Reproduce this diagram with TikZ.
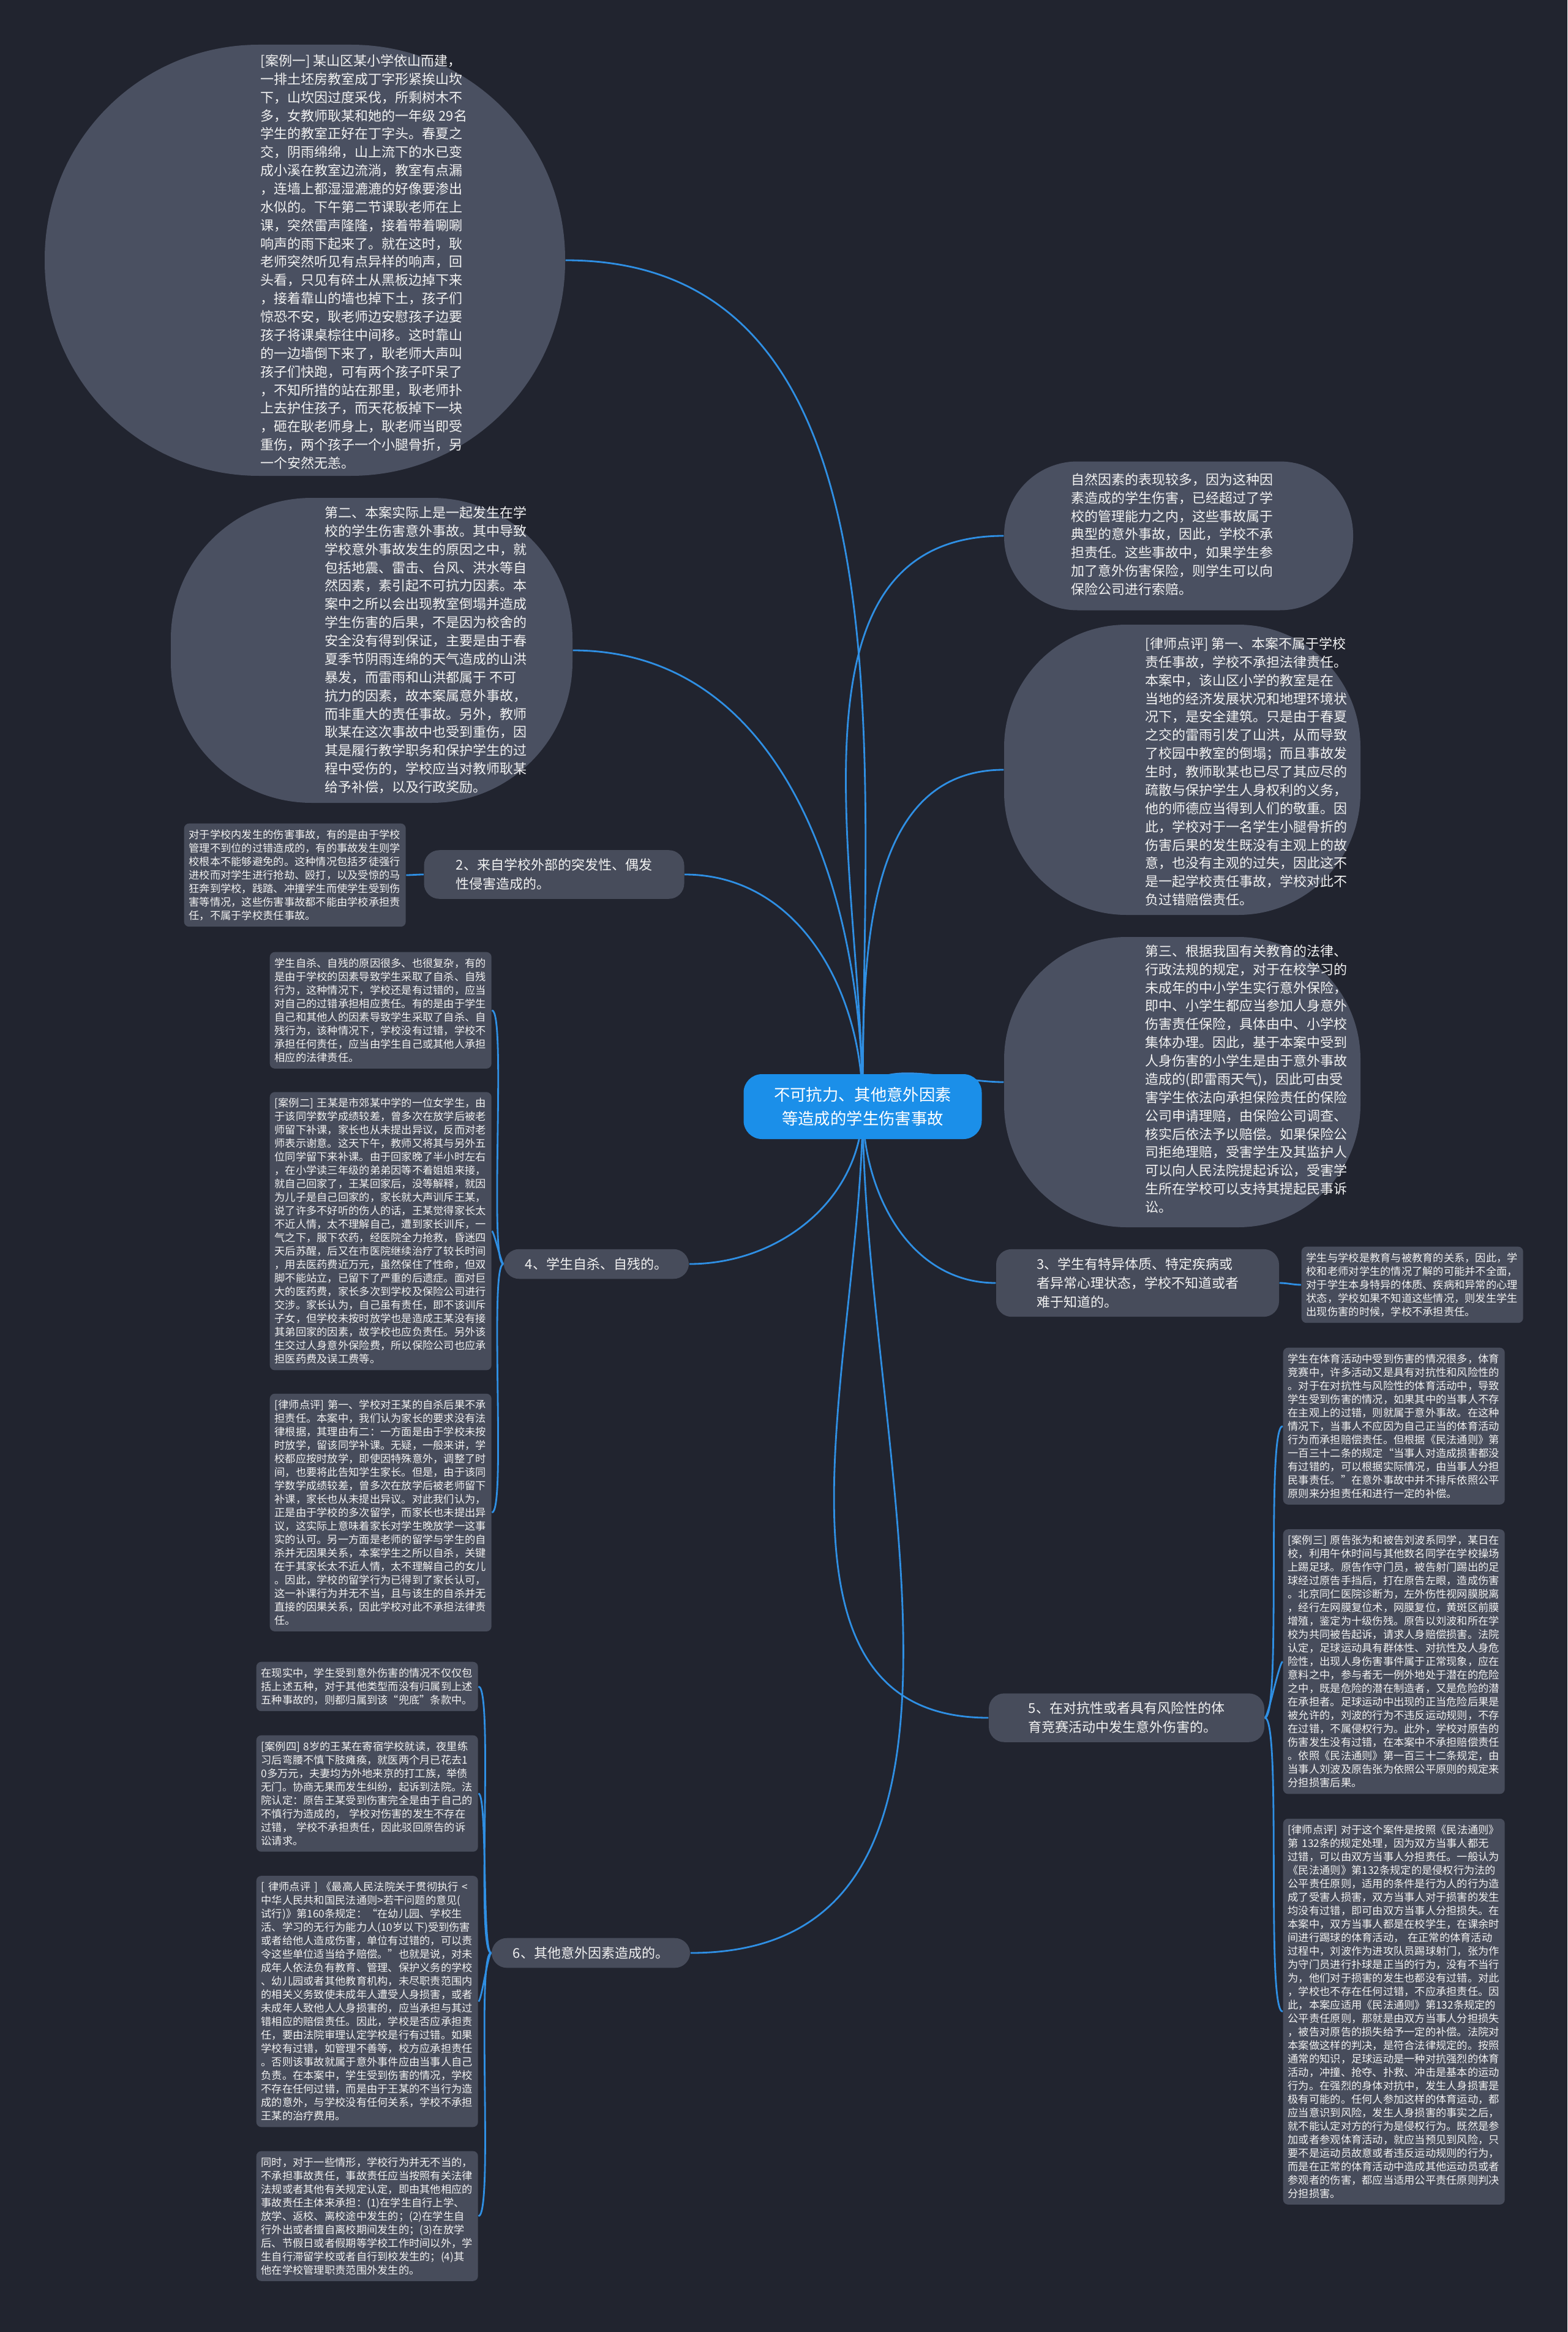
\documentclass[tikz,border=0pt]{standalone}
\usepackage{fontspec}
\setmainfont{Noto Sans CJK SC}
\usepackage{xcolor}
\definecolor{bgcol}{HTML}{21242F}
\definecolor{blobcol}{HTML}{4A5061}
\definecolor{cardcol}{HTML}{474C5B}
\definecolor{rootcol}{HTML}{1B8FE9}
\definecolor{linkcol}{HTML}{2F8FE3}
\definecolor{txtcol}{HTML}{F2F2F2}
\usetikzlibrary{positioning, backgrounds}

\begin{document}
\begin{tikzpicture}[
    blob/.style={fill=blobcol, inner sep=0pt},
    blobtext/.style={text=txtcol, align=left, inner sep=0pt, anchor=north west,
                     font=\fontsize{6.26}{8.5}\selectfont},
    card/.style={fill=cardcol, rounded corners=2.3pt, text=txtcol, align=left,
                 text width=3.46cm, inner xsep=0.08cm, inner ysep=0.1cm,
                 font=\fontsize{4.91}{6.26}\selectfont},
    branch/.style={fill=cardcol, rounded corners=0.25cm, text=txtcol, align=left,
                   inner xsep=0.35cm, inner ysep=0.14cm,
                   font=\fontsize{6.26}{8.8}\selectfont},
    link/.style={draw=linkcol, line width=0.8pt}]

  \useasboundingbox (0,0) rectangle (25.6,-38.08);

  \node[fill=rootcol, rounded corners=0.3cm, text=white, align=center,
        minimum width=3.89cm, minimum height=1.06cm,
        font=\fontsize{7.5}{11.1}\selectfont] (root) at (14.09,-18.07)
        {不可抗力、其他意外因素\\等造成的学生伤害事故};

  % upper bubbles
  \node[blob, minimum width=8.5cm, minimum height=7.04cm, rounded corners=3.5cm]
        (case1) at (4.98,-4.25) {};
  \node[blobtext] (case1txt) at (4.25,-0.88)
        {[案例一] 某山区某小学依山而建，\\一排土坯房教室成丁字形紧挨山坎\\下，山坎因过度采伐，所剩树木不\\多，女教师耿某和她的一年级 29名\\学生的教室正好在丁字头。春夏之\\交，阴雨绵绵，山上流下的水已变\\成小溪在教室边流淌，教室有点漏\\，连墙上都湿湿漉漉的好像要渗出\\水似的。下午第二节课耿老师在上\\课，突然雷声隆隆，接着带着唰唰\\响声的雨下起来了。就在这时，耿\\老师突然听见有点异样的响声，回\\头看，只见有碎土从黑板边掉下来\\，接着靠山的墙也掉下土，孩子们\\惊恐不安，耿老师边安慰孩子边要\\孩子将课桌棕往中间移。这时靠山\\的一边墙倒下来了，耿老师大声叫\\孩子们快跑，可有两个孩子吓呆了\\，不知所措的站在那里，耿老师扑\\上去护住孩子，而天花板掉下一块\\，砸在耿老师身上，耿老师当即受\\重伤，两个孩子一个小腿骨折，另\\一个安然无恙。};

  \node[blob, minimum width=6.56cm, minimum height=4.98cm, rounded corners=2.3cm]
        (second) at (6.07,-10.62) {};
  \node[blobtext] (secondtxt) at (5.30,-8.26)
        {第二、本案实际上是一起发生在学\\校的学生伤害意外事故。其中导致\\学校意外事故发生的原因之中，就\\包括地震、雷击、台风、洪水等自\\然因素，素引起不可抗力因素。本\\案中之所以会出现教室倒塌并造成\\学生伤害的后果，不是因为校舍的\\安全没有得到保证，主要是由于春\\夏季节阴雨连绵的天气造成的山洪\\暴发，而雷雨和山洪都属于 不可\\抗力的因素，故本案属意外事故，\\而非重大的责任事故。另外，教师\\耿某在这次事故中也受到重伤，因\\其是履行教学职务和保护学生的过\\程中受伤的，学校应当对教师耿某\\给予补偿，以及行政奖励。};

  \node[blob, minimum width=5.7cm, minimum height=2.43cm, rounded corners=1.2cm]
        (nature) at (19.25,-8.75) {};
  \node[blobtext] (naturetxt) at (17.49,-7.72)
        {自然因素的表现较多，因为这种因\\素造成的学生伤害，已经超过了学\\校的管理能力之内，这些事故属于\\典型的意外事故，因此，学校不承\\担责任。这些事故中，如果学生参\\加了意外伤害保险，则学生可以向\\保险公司进行索赔。};

  \node[blob, minimum width=5.82cm, minimum height=4.74cm, rounded corners=2cm]
        (review1) at (19.31,-12.57) {};
  \node[blobtext] (review1txt) at (18.70,-10.40)
        {[律师点评] 第一、本案不属于学校\\责任事故，学校不承担法律责任。\\本案中，该山区小学的教室是在\\当地的经济发展状况和地理环境状\\况下，是安全建筑。只是由于春夏\\之交的雷雨引发了山洪，从而导致\\了校园中教室的倒塌；而且事故发\\生时，教师耿某也已尽了其应尽的\\疏散与保护学生人身权利的义务，\\他的师德应当得到人们的敬重。因\\此，学校对于一名学生小腿骨折的\\伤害后果的发生既没有主观上的故\\意，也没有主观的过失，因此这不\\是一起学校责任事故，学校对此不\\负过错赔偿责任。};

  \node[blob, minimum width=5.82cm, minimum height=4.74cm, rounded corners=2cm]
        (third) at (19.31,-17.67) {};
  \node[blobtext] (thirdtxt) at (18.70,-15.42)
        {第三、根据我国有关教育的法律、\\行政法规的规定，对于在校学习的\\未成年的中小学生实行意外保险，\\即中、小学生都应当参加人身意外\\伤害责任保险，具体由中、小学校\\集体办理。因此，基于本案中受到\\人身伤害的小学生是由于意外事故\\造成的(即雷雨天气)，因此可由受\\害学生依法向承担保险责任的保险\\公司申请理赔，由保险公司调查、\\核实后依法予以赔偿。如果保险公\\司拒绝理赔，受害学生及其监护人\\可以向人民法院提起诉讼，受害学\\生所在学校可以支持其提起民事诉\\讼。};

  % branches
  \node[branch, minimum width=4.25cm] (b2) at (9.05,-14.28) {2、来自学校外部的突发性、偶发\\性侵害造成的。};
  \node[branch, minimum width=4.62cm] (b3) at (18.58,-20.95) {3、学生有特异体质、特定疾病或\\者异常心理状态，学校不知道或者\\难于知道的。};
  \node[branch] (b4) at (9.74,-20.64) {4、学生自杀、自残的。};
  \node[branch, minimum width=4.5cm] (b5) at (18.40,-28.05) {5、在对抗性或者具有风险性的体\\育竞赛活动中发生意外伤害的。};
  \node[branch] (b6) at (9.65,-31.89) {6、其他意外因素造成的。};

  % leaves
  \node[card, anchor=north west] (box2) at (3.00,-13.44)
        {对于学校内发生的伤害事故，有的是由于学校\\管理不到位的过错造成的，有的事故发生则学\\校根本不能够避免的。这种情况包括歹徒强行\\进校而对学生进行抢劫、殴打，以及受惊的马\\狂奔到学校，践踏、冲撞学生而使学生受到伤\\害等情况，这些伤害事故都不能由学校承担责\\任，不属于学校责任事故。};

  \node[card, anchor=north west] (box4a) at (4.40,-15.54)
        {学生自杀、自残的原因很多、也很复杂，有的\\是由于学校的因素导致学生采取了自杀、自残\\行为，这种情况下，学校还是有过错的，应当\\对自己的过错承担相应责任。有的是由于学生\\自己和其他人的因素导致学生采取了自杀、自\\残行为，该种情况下，学校没有过错，学校不\\承担任何责任，应当由学生自己或其他人承担\\相应的法律责任。};
  \node[card, below=0.37cm of box4a] (box4b)
        {[案例二] 王某是市郊某中学的一位女学生，由\\于该同学数学成绩较差，曾多次在放学后被老\\师留下补课，家长也从未提出异议，反而对老\\师表示谢意。这天下午，教师又将其与另外五\\位同学留下来补课。由于回家晚了半小时左右\\，在小学读三年级的弟弟因等不着姐姐来接，\\就自己回家了，王某回家后，没等解释，就因\\为儿子是自己回家的，家长就大声训斥王某，\\说了许多不好听的伤人的话，王某觉得家长太\\不近人情，太不理解自己，遭到家长训斥，一\\气之下，服下农药，经医院全力抢救，昏迷四\\天后苏醒，后又在市医院继续治疗了较长时间\\，用去医药费近万元，虽然保住了性命，但双\\脚不能站立，已留下了严重的后遗症。面对巨\\大的医药费，家长多次到学校及保险公司进行\\交涉。家长认为，自己虽有责任，即不该训斥\\子女，但学校未按时放学也是造成王某没有接\\其弟回家的因素，故学校也应负责任。另外该\\生交过人身意外保险费，所以保险公司也应承\\担医药费及误工费等。};
  \node[card, below=0.37cm of box4b] (box4c)
        {[律师点评] 第一、学校对王某的自杀后果不承\\担责任。本案中，我们认为家长的要求没有法\\律根据，其理由有二：一方面是由于学校未按\\时放学，留该同学补课。无疑，一般来讲，学\\校都应按时放学，即使因特殊意外，调整了时\\间，也要将此告知学生家长。但是，由于该同\\学数学成绩较差，曾多次在放学后被老师留下\\补课，家长也从未提出异议。对此我们认为，\\正是由于学校的多次留学，而家长也未提出异\\议，这实际上意味着家长对学生晚放学一这事\\实的认可。另一方面是老师的留学与学生的自\\杀并无因果关系，本案学生之所以自杀，关键\\在于其家长太不近人情，太不理解自己的女儿\\。因此，学校的留学行为已得到了家长认可，\\这一补课行为并无不当，且与该生的自杀并无\\直接的因果关系，因此学校对此不承担法律责\\任。};

  \node[card, anchor=north west] (box6a) at (4.18,-27.13)
        {在现实中，学生受到意外伤害的情况不仅仅包\\括上述五种，对于其他类型而没有归属到上述\\五种事故的，则都归属到该“兜底”条款中。};
  \node[card, below=0.38cm of box6a] (box6b)
        {[案例四] 8岁的王某在寄宿学校就读，夜里练\\习后弯腰不慎下肢瘫痪，就医两个月已花去1\\0多万元，夫妻均为外地来京的打工族，举债\\无门。协商无果而发生纠纷，起诉到法院。法\\院认定：原告王某受到伤害完全是由于自己的\\不慎行为造成的， 学校对伤害的发生不存在\\过错， 学校不承担责任，因此驳回原告的诉\\讼请求。};
  \node[card, below=0.38cm of box6b] (box6c)
        {[ 律师点评 ] 《最高人民法院关于贯彻执行 <\\中华人民共和国民法通则>若干问题的意见(\\试行)》第160条规定：“在幼儿园、学校生\\活、学习的无行为能力人(10岁以下)受到伤害\\或者给他人造成伤害，单位有过错的，可以责\\令这些单位适当给予赔偿。”也就是说，对未\\成年人依法负有教育、管理、保护义务的学校\\、幼儿园或者其他教育机构，未尽职责范围内\\的相关义务致使未成年人遭受人身损害，或者\\未成年人致他人人身损害的，应当承担与其过\\错相应的赔偿责任。因此，学校是否应承担责\\任，要由法院审理认定学校是行有过错。如果\\学校有过错，如管理不善等，校方应承担责任\\。否则该事故就属于意外事件应由当事人自己\\负责。在本案中，学生受到伤害的情况，学校\\不存在任何过错，而是由于王某的不当行为造\\成的意外，与学校没有任何关系，学校不承担\\王某的治疗费用。};
  \node[card, below=0.38cm of box6c] (box6d)
        {同时，对于一些情形，学校行为并无不当的，\\不承担事故责任，事故责任应当按照有关法律\\法规或者其他有关规定认定，即由其他相应的\\事故责任主体来承担：(1)在学生自行上学、\\放学、返校、离校途中发生的；(2)在学生自\\行外出或者擅自离校期间发生的；(3)在放学\\后、节假日或者假期等学校工作时间以外，学\\生自行滞留学校或者自行到校发生的；(4)其\\他在学校管理职责范围外发生的。};

  \node[card, anchor=north west] (box3) at (21.25,-20.35)
        {学生与学校是教育与被教育的关系，因此，学\\校和老师对学生的情况了解的可能并不全面，\\对于学生本身特异的体质、疾病和异常的心理\\状态，学校如果不知道这些情况，则发生学生\\出现伤害的时候，学校不承担责任。};

  \node[card, anchor=north west] (box5a) at (20.95,-22.00)
        {学生在体育活动中受到伤害的情况很多，体育\\竞赛中，许多活动又是具有对抗性和风险性的\\。对于在对抗性与风险性的体育活动中，导致\\学生受到伤害的情况，如果其中的当事人不存\\在主观上的过错，则就属于意外事故。在这种\\情况下，当事人不应因为自己正当的体育活动\\行为而承担赔偿责任。但根据《民法通则》第\\一百三十二条的规定“当事人对造成损害都没\\有过错的，可以根据实际情况，由当事人分担\\民事责任。”在意外事故中并不排斥依照公平\\原则来分担责任和进行一定的补偿。};
  \node[card, below=0.39cm of box5a] (box5b)
        {[案例三] 原告张为和被告刘波系同学，某日在\\校，利用午休时间与其他数名同学在学校操场\\上踢足球。原告作守门员，被告射门踢出的足\\球经过原告手挡后，打在原告左眼，造成伤害\\。北京同仁医院诊断为，左外伤性视网膜脱离\\，经行左网膜复位术，网膜复位，黄斑区前膜\\增殖，鉴定为十级伤残。原告以刘波和所在学\\校为共同被告起诉，请求人身赔偿损害。法院\\认定，足球运动具有群体性、对抗性及人身危\\险性，出现人身伤害事件属于正常现象，应在\\意料之中，参与者无一例外地处于潜在的危险\\之中，既是危险的潜在制造者，又是危险的潜\\在承担者。足球运动中出现的正当危险后果是\\被允许的，刘波的行为不违反运动规则，不存\\在过错，不属侵权行为。此外，学校对原告的\\伤害发生没有过错，在本案中不承担赔偿责任\\。依照《民法通则》第一百三十二条规定，由\\当事人刘波及原告张为依照公平原则的规定来\\分担损害后果。};
  \node[card, below=0.39cm of box5b] (box5c)
        {[律师点评] 对于这个案件是按照《民法通则》\\第 132条的规定处理，因为双方当事人都无\\过错，可以由双方当事人分担责任。一般认为\\《民法通则》第132条规定的是侵权行为法的\\公平责任原则，适用的条件是行为人的行为造\\成了受害人损害，双方当事人对于损害的发生\\均没有过错，即可由双方当事人分担损失。在\\本案中，双方当事人都是在校学生，在课余时\\间进行踢球的体育活动， 在正常的体育活动\\过程中，刘波作为进攻队员踢球射门，张为作\\为守门员进行扑球是正当的行为，没有不当行\\为，他们对于损害的发生也都没有过错。对此\\，学校也不存在任何过错，不应承担责任。因\\此，本案应适用《民法通则》第132条规定的\\公平责任原则，那就是由双方当事人分担损失\\，被告对原告的损失给予一定的补偿。法院对\\本案做这样的判决，是符合法律规定的。按照\\通常的知识，足球运动是一种对抗强烈的体育\\活动，冲撞、抢夺、扑救、冲击是基本的运动\\行为。在强烈的身体对抗中，发生人身损害是\\极有可能的。任何人参加这样的体育运动，都\\应当意识到风险，发生人身损害的事实之后，\\就不能认定对方的行为是侵权行为。既然是参\\加或者参观体育活动，就应当预见到风险，只\\要不是运动员故意或者违反运动规则的行为，\\而是在正常的体育活动中造成其他运动员或者\\参观者的伤害，都应当适用公平责任原则判决\\分担损害。};

  \begin{scope}[on background layer]
    \fill[bgcol] (0,0) rectangle (25.6,-38.08);
    \draw[link] (root.center) to[out=90, in=0] (case1.east);
    \draw[link] (root.center) to[out=90, in=0] (second.east);
    \draw[link] (root.center) to[out=90, in=180] (nature.west);
    \draw[link] (root.center) to[out=90, in=180] (review1.west);
    \draw[link] (root.center) to[out=90, in=180] (third.west);
    \draw[link] (root.center) to[out=90, in=0] (b2.east);
    \draw[link] (root.center) to[out=-90, in=0] (b4.east);
    \draw[link] (root.center) to[out=-90, in=0] (b6.east);
    \draw[link] (root.center) to[out=-90, in=180] (b3.west);
    \draw[link] (root.center) to[out=-90, in=180] (b5.west);
    \draw[link] (b2.west) to[out=180, in=0] (box2.east);
    \draw[link] (b3.east) to[out=0, in=180] (box3.west);
    \draw[link] (b4.west) to[out=180, in=0, looseness=0.15] (box4a.east);
    \draw[link] (b4.west) to[out=180, in=0, looseness=0.15] (box4b.east);
    \draw[link] (b4.west) to[out=180, in=0, looseness=0.15] (box4c.east);
    \draw[link] (b5.east) to[out=0, in=180, looseness=0.15] (box5a.west);
    \draw[link] (b5.east) to[out=0, in=180, looseness=0.15] (box5b.west);
    \draw[link] (b5.east) to[out=0, in=180, looseness=0.15] (box5c.west);
    \draw[link] (b6.west) to[out=180, in=0, looseness=0.15] (box6a.east);
    \draw[link] (b6.west) to[out=180, in=0, looseness=0.15] (box6b.east);
    \draw[link] (b6.west) to[out=180, in=0, looseness=0.15] (box6c.east);
    \draw[link] (b6.west) to[out=180, in=0, looseness=0.15] (box6d.east);
  \end{scope}
\end{tikzpicture}
\end{document}
